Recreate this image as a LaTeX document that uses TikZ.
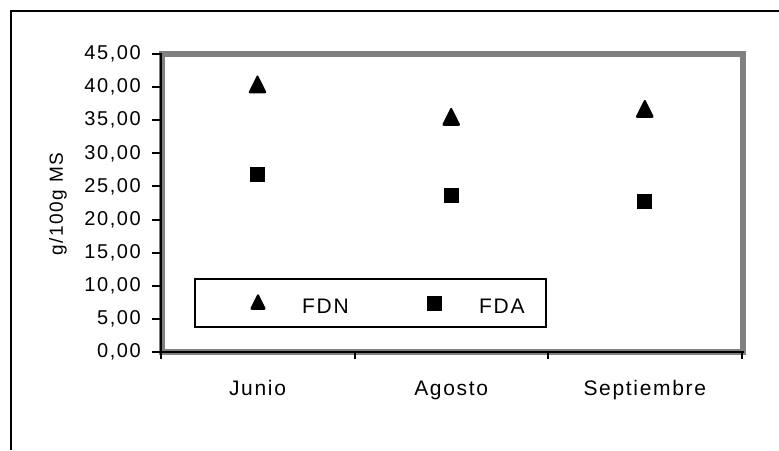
\documentclass[tikz,border=0pt]{standalone}
\usepackage{fontspec}
\usepackage{xcolor}
\usepackage{tikz}
\newfontfamily\chartfont{Liberation Sans}[LetterSpace=8]
\definecolor{areagris}{RGB}{128,128,128}
\tikzset{
  ticklbl/.style={font=\chartfont\fontsize{20}{24}\selectfont, inner sep=0pt},
  catlbl/.style={font=\chartfont\fontsize{21}{25}\selectfont, inner sep=0pt, anchor=base},
  fdn/.pic={\fill[rounded corners=2pt] (-9.5,-9.5) -- (0,9.5) -- (9.5,-9.5) -- cycle;},
  fda/.pic={\fill (-7.5,-7.5) rectangle (7.5,7.5);}
}

\begin{document}
\begin{tikzpicture}[x=1pt,y=1pt]
\useasboundingbox (0,0) rectangle (779,450);
% outer frame
\draw[line width=2pt] (11,0) -- (11,439) -- (779,439);

% plot area
\draw[areagris, line width=6pt] (161.5,97.5) rectangle (742.5,396);

% vertical axis
\draw[line width=2pt] (161,397) -- (161,98);
\foreach \v in {0,5,...,45}{
  \pgfmathsetmacro\yy{98+\v*6.622}
  \draw[line width=2pt] (152,\yy) -- (161,\yy);
  \node[ticklbl, anchor=east] (y\v) at (141,\yy) {\v,00};
}
\node[ticklbl, font=\chartfont\fontsize{19}{23}\selectfont, rotate=90] (ylbl) at (58,246) {g/100g MS};

% horizontal axis
\draw[line width=2pt] (160,98) -- (743.5,98);
\foreach \i in {0,...,3}
  \draw[line width=2pt] (161+\i*193.7,98) -- (161+\i*193.7,90.5);
\node[catlbl] (junio) at (257.5,55) {Junio};
\node[catlbl] (agosto) at (451.2,55) {Agosto};
\node[catlbl] (sept) at (644.8,55) {Septiembre};

% data
\foreach \x/\v in {257.5/40.5, 451.2/35.6, 644.8/36.8}
  \pic at (\x,98+\v*6.622) {fdn};
\foreach \x/\v in {257.5/26.85, 451.2/23.6, 644.8/22.7}
  \pic at (\x,98+\v*6.622) {fda};

% legend
\draw[line width=2pt] (195,123) rectangle (546,171);
\pic[scale=0.87] at (258,148.5) {fdn};
\node[catlbl, anchor=base west] (lfdn) at (302,136.7) {FDN};
\pic at (434.5,146) {fda};
\node[catlbl, anchor=base west] (lfda) at (479,136.7) {FDA};
\end{tikzpicture}
\end{document}
